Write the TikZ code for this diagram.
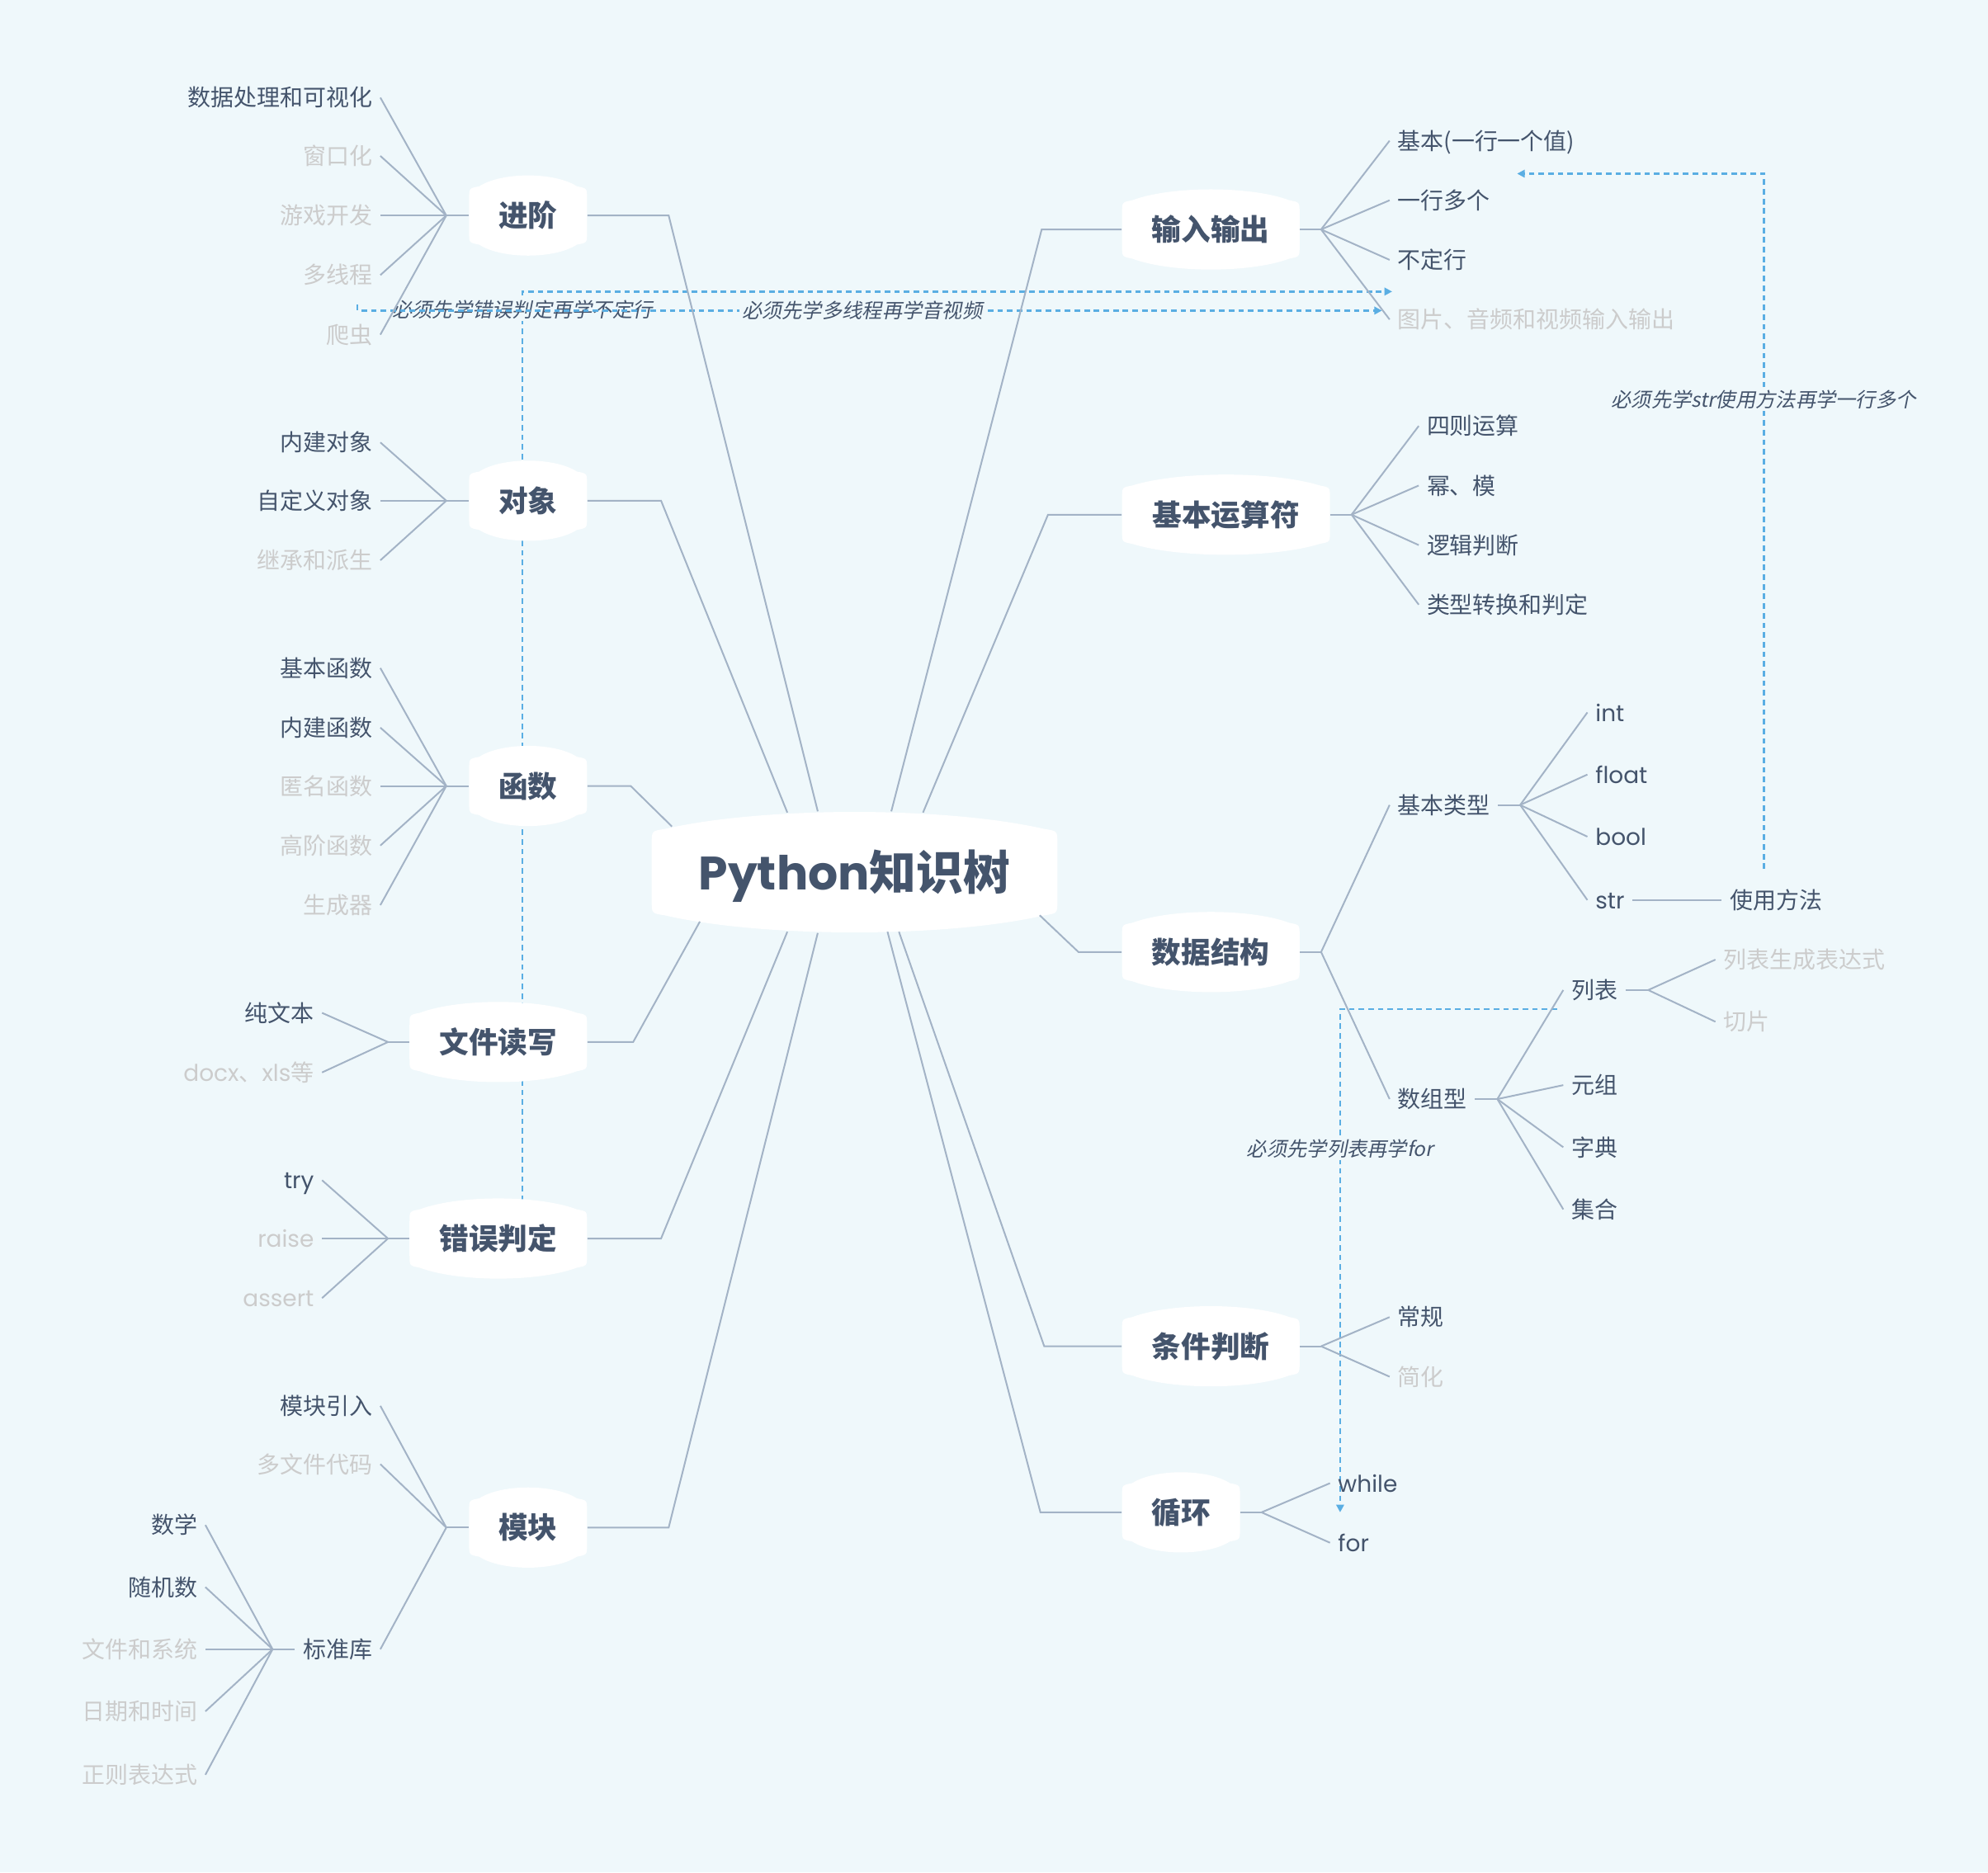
\documentclass[tikz,border=0pt]{standalone}
\usepackage{fontspec}
\setmainfont{Noto Sans CJK SC}
\newfontfamily\lat{Poppins}
\newfontfamily\cjkit{Noto Sans CJK SC}[FakeSlant=0.2]
\usetikzlibrary{arrows.meta,calc}
\definecolor{bgc}{HTML}{EFF8FB}
\definecolor{dark}{HTML}{44546C}
\definecolor{fade}{HTML}{CCCCCC}
\definecolor{linec}{HTML}{A3B3C6}
\definecolor{relc}{HTML}{5AAEE3}
\pgfdeclarelayer{bg}
\pgfsetlayers{bg,main}
\newcommand\bubshape[6]{%
\fill[white] ({#1-#3},{#2-#4+#6}) .. controls ({#1-#3},{#2-#4}) .. ({#1-#3+#6},{#2-#4-1.5})
 .. controls ({#1-0.45*#3},{#2-#4-#5}) and ({#1+0.45*#3},{#2-#4-#5}) .. ({#1+#3-#6},{#2-#4-1.5})
 .. controls ({#1+#3},{#2-#4}) .. ({#1+#3},{#2-#4+#6})
 -- ({#1+#3},{#2+#4-#6})
 .. controls ({#1+#3},{#2+#4}) .. ({#1+#3-#6},{#2+#4+1.5})
 .. controls ({#1+0.45*#3},{#2+#4+#5}) and ({#1-0.45*#3},{#2+#4+#5}) .. ({#1-#3+#6},{#2+#4+1.5})
 .. controls ({#1-#3},{#2+#4}) .. ({#1-#3},{#2+#4-#6}) -- cycle;}
\newcommand\branchnode[5]{%
 \bubshape{#2}{#3}{#4}{21.5}{13}{8}
 \node[branch, minimum width=#4pt] (#1) at (#2,#3) {#5};}
\tikzset{
 leaf/.style={inner xsep=3pt, inner ysep=1pt, text height=8pt, text depth=1.1pt,
   font=\fontsize{9.1}{10}\selectfont, text=dark},
 L/.style={leaf, anchor=east},
 R/.style={leaf, anchor=west},
 faded/.style={text=fade},
 branch/.style={inner sep=0pt, minimum height=21.5pt, text height=10.2pt, text depth=1.4pt,
   font=\bfseries\fontsize{11.6}{13}\selectfont, text=dark},
 central/.style={inner sep=0pt, text height=16.3pt, text depth=2.4pt,
   font=\fontsize{18.5}{20}\selectfont, text=dark},
 conn/.style={draw=linec, line width=0.65pt},
 rel/.style={draw=relc, line width=0.75pt, dash pattern=on 2.2pt off 1.6pt,
   -{Triangle[length=3pt,width=3pt]}},
 rellabel/.style={font=\cjkit\fontsize{7.9}{9}\selectfont, text=dark, fill=bgc, inner sep=1pt},
}
\begin{document}
\begin{tikzpicture}[x=0.5pt,y=-0.5pt]
\useasboundingbox (0,0) rectangle (1568,1477);
\begin{pgfonlayer}{bg}
\fill[bgc] (0,0) rectangle (1568,1477);
\end{pgfonlayer}

% ---------- central ----------
\bubshape{674}{688}{160}{32.5}{19.5}{10}
\node[central, minimum width=160pt, minimum height=65pt] (py) at (674,688)
  {{\lat\bfseries Python}{\bfseries 知识树}};

% ---------- branch nodes ----------
\branchnode{jj}{416.5}{170}{46.5}{进阶}
\branchnode{dx}{416.5}{395}{46.5}{对象}
\branchnode{hs}{416.5}{620}{46.5}{函数}
\branchnode{wj}{393}{822}{70}{文件读写}
\branchnode{cw}{393}{977}{70}{错误判定}
\branchnode{mk}{416.5}{1205}{46.5}{模块}
\branchnode{io}{955}{181}{70}{输入输出}
\branchnode{ys}{967}{406}{82}{基本运算符}
\branchnode{sj}{955}{751}{70}{数据结构}
\branchnode{tj}{955}{1062}{70}{条件判断}
\branchnode{xh}{931.5}{1193}{46.5}{循环}

% ---------- hubs ----------
\coordinate (hjj) at (352,170);
\coordinate (hdx) at (352,395);
\coordinate (hhs) at (352,620);
\coordinate (hwj) at (306,822);
\coordinate (hcw) at (306,977);
\coordinate (hmk) at (352,1205);
\coordinate (hbz) at (215,1301);
\coordinate (hio) at (1042,181);
\coordinate (hys) at (1066,406);
\coordinate (hsj) at (1042,751);
\coordinate (hjb) at (1199,635);
\coordinate (hsz) at (1181,867);
\coordinate (hlb) at (1300,781);
\coordinate (htj) at (1042,1062);
\coordinate (hxh) at (995,1193);

% ---------- left leaves ----------
\node[L] (jj1) at (300,77) {数据处理和可视化};
\node[L,faded] (jj2) at (300,123) {窗口化};
\node[L,faded] (jj3) at (300,170) {游戏开发};
\node[L,faded] (jj4) at (300,217) {多线程};
\node[L,faded] (jj5) at (300,264) {爬虫};

\node[L] (dx1) at (300,349) {内建对象};
\node[L] (dx2) at (300,395) {自定义对象};
\node[L,faded] (dx3) at (300,442) {继承和派生};

\node[L] (hs1) at (300,527) {基本函数};
\node[L] (hs2) at (300,574) {内建函数};
\node[L,faded] (hs3) at (300,620) {匿名函数};
\node[L,faded] (hs4) at (300,667) {高阶函数};
\node[L,faded] (hs5) at (300,714) {生成器};

\node[L] (wj1) at (254,799) {纯文本};
\node[L,faded] (wj2) at (254,846) {{\lat docx}、{\lat xls}等};

\node[L] (cw1) at (254,931) {\lat try};
\node[L,faded] (cw2) at (254,977) {\lat raise};
\node[L,faded] (cw3) at (254,1024) {\lat assert};

\node[L] (mk1) at (300,1109) {模块引入};
\node[L,faded] (mk2) at (300,1155) {多文件代码};
\node[L] (mk3) at (300,1301) {标准库};

\node[L] (bz1) at (162,1203) {数学};
\node[L] (bz2) at (162,1252) {随机数};
\node[L,faded] (bz3) at (162,1301) {文件和系统};
\node[L,faded] (bz4) at (162,1350) {日期和时间};
\node[L,faded] (bz5) at (162,1400) {正则表达式};

% ---------- right leaves ----------
\node[R] (io1) at (1096,111) {基本(一行一个值)};
\node[R] (io2) at (1096,158) {一行多个};
\node[R] (io3) at (1096,205) {不定行};
\node[R,faded] (io4) at (1096,252) {图片、音频和视频输入输出};

\node[R] (ys1) at (1119,336) {四则运算};
\node[R] (ys2) at (1119,383) {幂、模};
\node[R] (ys3) at (1119,430) {逻辑判断};
\node[R] (ys4) at (1119,477) {类型转换和判定};

\node[R] (jb) at (1096,635) {基本类型};
\node[R] (sz) at (1096,867) {数组型};

\node[R] (jb1) at (1252,562) {\lat int};
\node[R] (jb2) at (1252,611) {\lat float};
\node[R] (jb3) at (1252,660) {\lat bool};
\node[R] (jb4) at (1252,710) {\lat str};
\node[R] (sy) at (1358,710) {使用方法};

\node[R] (lb) at (1233,781) {列表};
\node[R] (sz2) at (1233,856) {元组};
\node[R] (sz3) at (1233,905) {字典};
\node[R] (sz4) at (1233,954) {集合};

\node[R,faded] (lb1) at (1353,757) {列表生成表达式};
\node[R,faded] (lb2) at (1353,806) {切片};

\node[R] (tj1) at (1096,1039) {常规};
\node[R,faded] (tj2) at (1096,1086) {简化};

\node[R] (xh1) at (1049,1170) {\lat while};
\node[R] (xh2) at (1049,1217) {\lat for};

% ---------- connectors: central to branches ----------
\draw[conn] (jj.east) -- ++(64,0) -- ([shift={(-29,-48)}]py.center);
\draw[conn] (dx.east) -- ++(58,0) -- ([shift={(-53,-47)}]py.center);
\draw[conn] (hs.east) -- ++(34,0) -- ([shift={(-144,-36)}]py.center);
\draw[conn] (wj.east) -- ++(36,0) -- ([shift={(-122,39)}]py.center);
\draw[conn] (cw.east) -- ++(58,0) -- ([shift={(-53,47)}]py.center);
\draw[conn] (mk.east) -- ++(64,0) -- ([shift={(-29,48)}]py.center);
\draw[conn] (io.west) -- ++(-63,0) -- ([shift={(29,-48)}]py.center);
\draw[conn] (ys.west) -- ++(-58,0) -- ([shift={(54,-47)}]py.center);
\draw[conn] (sj.west) -- ++(-34,0) -- ([shift={(146,34)}]py.center);
\draw[conn] (tj.west) -- ++(-61,0) -- ([shift={(35,47)}]py.center);
\draw[conn] (xh.west) -- ++(-64,0) -- ([shift={(26,47)}]py.center);

% ---------- connectors: branches to hubs to leaves ----------
\draw[conn] (jj.west) -- (hjj);
\foreach \n in {jj1,jj2,jj3,jj4,jj5} \draw[conn] (hjj) -- (\n.east);
\draw[conn] (dx.west) -- (hdx);
\foreach \n in {dx1,dx2,dx3} \draw[conn] (hdx) -- (\n.east);
\draw[conn] (hs.west) -- (hhs);
\foreach \n in {hs1,hs2,hs3,hs4,hs5} \draw[conn] (hhs) -- (\n.east);
\draw[conn] (wj.west) -- (hwj);
\foreach \n in {wj1,wj2} \draw[conn] (hwj) -- (\n.east);
\draw[conn] (cw.west) -- (hcw);
\foreach \n in {cw1,cw2,cw3} \draw[conn] (hcw) -- (\n.east);
\draw[conn] (mk.west) -- (hmk);
\foreach \n in {mk1,mk2,mk3} \draw[conn] (hmk) -- (\n.east);
\draw[conn] (mk3.west) -- (hbz);
\foreach \n in {bz1,bz2,bz3,bz4,bz5} \draw[conn] (hbz) -- (\n.east);

\draw[conn] (io.east) -- (hio);
\foreach \n in {io1,io2,io3,io4} \draw[conn] (hio) -- (\n.west);
\draw[conn] (ys.east) -- (hys);
\foreach \n in {ys1,ys2,ys3,ys4} \draw[conn] (hys) -- (\n.west);
\draw[conn] (sj.east) -- (hsj);
\foreach \n in {jb,sz} \draw[conn] (hsj) -- (\n.west);
\draw[conn] (jb.east) -- (hjb);
\foreach \n in {jb1,jb2,jb3,jb4} \draw[conn] (hjb) -- (\n.west);
\draw[conn] (jb4.east) -- (sy.west);
\draw[conn] (sz.east) -- (hsz);
\foreach \n in {lb,sz2,sz3,sz4} \draw[conn] (hsz) -- (\n.west);
\draw[conn] (lb.east) -- (hlb);
\foreach \n in {lb1,lb2} \draw[conn] (hlb) -- (\n.west);
\draw[conn] (tj.east) -- (htj);
\foreach \n in {tj1,tj2} \draw[conn] (htj) -- (\n.west);
\draw[conn] (xh.east) -- (hxh);
\foreach \n in {xh1,xh2} \draw[conn] (hxh) -- (\n.west);

% ---------- dependency relations ----------
\begin{pgfonlayer}{bg}
\draw[rel] ([xshift=9.5pt]cw.north) |- ($(io3.west)+(2,25)$);
\node[rellabel] (r1) at (412,244) {必须先学错误判定再学不定行};
\draw[rel] ($(jj4.south east)+(-18,12)$) |- ($(io4.west)+(-6,-7)$);
\node[rellabel] (r2) at (680,245) {必须先学多线程再学音视频};
\draw[rel] ($(sy.north)+(-9.5,-13)$) |- ($(io2.east)+(15,-21)$);
\node[rellabel] (r3) at (1391,315) {必须先学str使用方法再学一行多个};
\draw[rel] ($(lb.west)+(-5,15)$) -| ($(xh2.west)+(8,-24)$);
\node[rellabel] (r4) at (1057,906) {必须先学列表再学for};
\end{pgfonlayer}
\end{tikzpicture}
\end{document}
